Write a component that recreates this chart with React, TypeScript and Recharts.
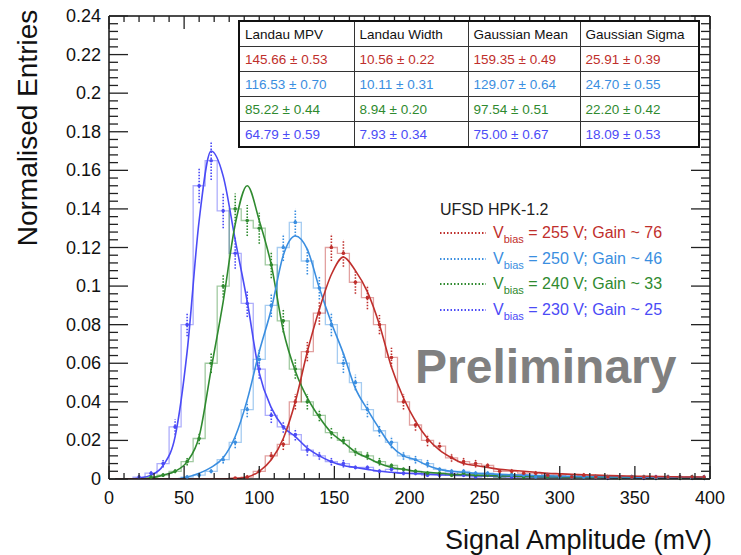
import { ComposedChart, Line, Scatter, ErrorBar, XAxis, YAxis } from 'recharts';

const FONT = '"Liberation Sans", Arial, Helvetica, sans-serif';

// bin centres (mV), 8 mV bins
const binCenters = [
  4, 12, 20, 28, 36, 44, 52, 60, 68, 76,
  84, 92, 100, 108, 116, 124, 132, 140, 148, 156,
  164, 172, 180, 188, 196, 204, 212, 220, 228, 236,
  244, 252, 260, 268, 276, 284, 292, 300, 308, 316,
  324, 332, 340, 348, 356, 364, 372, 380, 388, 396,
];

// Vbias = 230 V
const hist230 = [
  0, 0, 0.001, 0.003, 0.008, 0.027, 0.08, 0.152, 0.165, 0.139,
  0.117, 0.091, 0.057, 0.033, 0.027, 0.023, 0.015, 0.012, 0.009, 0.008,
  0.006, 0.006, 0.004, 0.005, 0.003, 0.003, 0.002, 0.002, 0.003, 0.002,
  0.001, 0.002, 0.001, 0.001, 0.002, 0.001, 0.001, 0.001, 0.001, 0.001,
  0.001, 0.0005, 0.001, 0.001, 0.0005, 0.001, 0.001, 0.0005, 0.001, 0.0005,
];
const fit230 = [
  0, 0, 0.0005, 0.002, 0.007, 0.022, 0.066, 0.134, 0.17, 0.157,
  0.124, 0.092, 0.055, 0.037, 0.027, 0.022, 0.016, 0.012, 0.009, 0.007,
  0.006, 0.005, 0.004, 0.0035, 0.003, 0.0028, 0.0025, 0.0022, 0.002, 0.0018,
  0.0016, 0.0015, 0.0014, 0.0013, 0.0012, 0.0011, 0.001, 0.001, 0.0009, 0.0009,
  0.0008, 0.0008, 0.0007, 0.0007, 0.0007, 0.0006, 0.0006, 0.0006, 0.0005, 0.0005,
];
const err230 = [
  0, 0, 0.001, 0.001, 0.002, 0.004, 0.006, 0.009, 0.01, 0.009,
  0.008, 0.007, 0.005, 0.004, 0.003, 0.003, 0.003, 0.002, 0.002, 0.002,
  0.001, 0.001, 0.001, 0.001, 0.001, 0.001, 0.001, 0.001, 0.001, 0.001,
  0.001, 0.001, 0.001, 0.001, 0.001, 0.001, 0.001, 0.001, 0.001, 0.001,
  0.001, 0.001, 0.001, 0.001, 0.001, 0.001, 0.001, 0.001, 0.001, 0.001,
];

// Vbias = 240 V
const hist240 = [
  0, 0, 0, 0.001, 0.002, 0.004, 0.009, 0.021, 0.06, 0.1,
  0.14, 0.134, 0.13, 0.111, 0.082, 0.057, 0.04, 0.033, 0.024, 0.02,
  0.014, 0.012, 0.009, 0.007, 0.005, 0.004, 0.003, 0.003, 0.002, 0.003,
  0.002, 0.002, 0.001, 0.002, 0.001, 0.001, 0.001, 0.001, 0.001, 0.001,
  0.001, 0.001, 0.0005, 0.001, 0.001, 0.0005, 0.001, 0.0005, 0.001, 0.0005,
];
const fit240 = [
  0, 0, 0, 0.0005, 0.002, 0.004, 0.009, 0.022, 0.057, 0.092,
  0.132, 0.152, 0.134, 0.111, 0.077, 0.056, 0.042, 0.032, 0.024, 0.019,
  0.014, 0.011, 0.008, 0.006, 0.005, 0.004, 0.0035, 0.003, 0.0025, 0.0022,
  0.002, 0.0018, 0.0016, 0.0015, 0.0014, 0.0013, 0.0012, 0.0011, 0.001, 0.001,
  0.0009, 0.0009, 0.0008, 0.0008, 0.0007, 0.0007, 0.0007, 0.0006, 0.0006, 0.0006,
];
const err240 = [
  0, 0, 0, 0.001, 0.001, 0.001, 0.002, 0.003, 0.005, 0.006,
  0.008, 0.008, 0.008, 0.007, 0.006, 0.005, 0.004, 0.003, 0.003, 0.002,
  0.002, 0.002, 0.002, 0.001, 0.001, 0.001, 0.001, 0.001, 0.001, 0.001,
  0.001, 0.001, 0.001, 0.001, 0.001, 0.001, 0.001, 0.001, 0.001, 0.001,
  0.001, 0.001, 0.001, 0.001, 0.001, 0.001, 0.001, 0.001, 0.001, 0.001,
];

// Vbias = 250 V
const hist250 = [
  0, 0, 0, 0, 0, 0, 0.001, 0.002, 0.004, 0.01,
  0.019, 0.036, 0.062, 0.09, 0.12, 0.133, 0.113, 0.099, 0.08, 0.06,
  0.05, 0.036, 0.025, 0.019, 0.012, 0.01, 0.008, 0.005, 0.004, 0.004,
  0.003, 0.003, 0.002, 0.002, 0.002, 0.001, 0.002, 0.001, 0.001, 0.001,
  0.001, 0.001, 0.001, 0.001, 0.001, 0.0005, 0.001, 0.001, 0.0005, 0.001,
];
const fit250 = [
  0, 0, 0, 0, 0, 0, 0.001, 0.003, 0.006, 0.011,
  0.022, 0.041, 0.066, 0.088, 0.116, 0.126, 0.119, 0.099, 0.081, 0.065,
  0.047, 0.036, 0.026, 0.017, 0.012, 0.01, 0.007, 0.005, 0.004, 0.0035,
  0.003, 0.0027, 0.0024, 0.0022, 0.002, 0.0018, 0.0016, 0.0015, 0.0014, 0.0013,
  0.0012, 0.0011, 0.001, 0.001, 0.0009, 0.0009, 0.0008, 0.0008, 0.0007, 0.0007,
];
const err250 = [
  0, 0, 0, 0, 0, 0, 0.001, 0.001, 0.001, 0.002,
  0.003, 0.004, 0.005, 0.006, 0.007, 0.007, 0.007, 0.006, 0.006, 0.005,
  0.004, 0.004, 0.003, 0.003, 0.002, 0.002, 0.002, 0.001, 0.001, 0.001,
  0.001, 0.001, 0.001, 0.001, 0.001, 0.001, 0.001, 0.001, 0.001, 0.001,
  0.001, 0.001, 0.001, 0.001, 0.001, 0.001, 0.001, 0.001, 0.001, 0.001,
];

// Vbias = 255 V
const hist255 = [
  0, 0, 0, 0, 0, 0, 0, 0, 0, 0,
  0.0005, 0.001, 0.004, 0.012, 0.018, 0.04, 0.066, 0.086, 0.12, 0.117,
  0.102, 0.094, 0.08, 0.063, 0.04, 0.028, 0.02, 0.017, 0.011, 0.009,
  0.008, 0.007, 0.004, 0.004, 0.003, 0.003, 0.002, 0.002, 0.001, 0.002,
  0.001, 0.001, 0.001, 0.001, 0.001, 0.001, 0.001, 0.001, 0.001, 0.001,
];
const fit255 = [
  0, 0, 0, 0, 0, 0, 0, 0, 0, 0,
  0.0003, 0.001, 0.004, 0.01, 0.021, 0.04, 0.066, 0.088, 0.106, 0.115,
  0.108, 0.097, 0.08, 0.058, 0.042, 0.03, 0.021, 0.015, 0.011, 0.008,
  0.007, 0.006, 0.005, 0.0045, 0.004, 0.0035, 0.003, 0.0027, 0.0024, 0.0022,
  0.002, 0.0018, 0.0016, 0.0015, 0.0014, 0.0013, 0.0012, 0.0011, 0.001, 0.001,
];
const err255 = [
  0, 0, 0, 0, 0, 0, 0, 0, 0, 0,
  0, 0.001, 0.001, 0.002, 0.003, 0.004, 0.005, 0.006, 0.007, 0.007,
  0.006, 0.006, 0.005, 0.005, 0.004, 0.003, 0.003, 0.002, 0.002, 0.002,
  0.002, 0.001, 0.001, 0.001, 0.001, 0.001, 0.001, 0.001, 0.001, 0.001,
  0.001, 0.001, 0.001, 0.001, 0.001, 0.001, 0.001, 0.001, 0.001, 0.001,
];

// fit table
const tableHeaders = ['Landau MPV', 'Landau Width', 'Gaussian Mean', 'Gaussian Sigma'];
const landauMpv = ['145.66 ± 0.53', '116.53 ± 0.70', '85.22 ± 0.44', '64.79 ± 0.59'];
const landauWidth = ['10.56 ± 0.22', '10.11 ± 0.31', '8.94 ± 0.20', '7.93 ± 0.34'];
const gaussMean = ['159.35 ± 0.49', '129.07 ± 0.64', '97.54 ± 0.51', '75.00 ± 0.67'];
const gaussSigma = ['25.91 ± 0.39', '24.70 ± 0.55', '22.20 ± 0.42', '18.09 ± 0.53'];

// legend
const voltages = [255, 250, 240, 230];
const gains = [76, 46, 33, 25];
const colors = ['#bf2f2c', '#3a8ee0', '#2f8a2f', '#4b4bf6'];

const xTicks = Array.from({ length: 41 }, (_, i) => i * 10);
const yTicks = Array.from({ length: 61 }, (_, i) => +(i * 0.004).toFixed(3));

const series = [
  { key: 's230', hist: hist230, fit: fit230, err: err230, color: colors[3] },
  { key: 's240', hist: hist240, fit: fit240, err: err240, color: colors[2] },
  { key: 's250', hist: hist250, fit: fit250, err: err250, color: colors[1] },
  { key: 's255', hist: hist255, fit: fit255, err: err255, color: colors[0] },
];

const rows = binCenters.map((x, i) => {
  const r: any = { x };
  series.forEach((s) => {
    r['h' + s.key] = s.hist[i];
    r['f' + s.key] = s.fit[i];
  });
  return r;
});

const pointsFor = (s: any) =>
  binCenters
    .map((x, i) => ({ x, y: s.hist[i], e: s.err[i] }))
    .filter((p) => p.y > 0);

const isMajorY = (v: number) => Math.round(v * 1000) % 20 === 0;

const BottomTick = (p: any) => {
  const v = p.payload.value;
  const major = v % 50 === 0;
  return (
    <g>
      <line x1={p.x} x2={p.x} y1={p.y} y2={p.y - (major ? 13 : 6)} stroke="#222" strokeWidth={1.3} />
      {major && (
        <text x={p.x} y={p.y + 25} textAnchor="middle" fontSize={18} fill="#111" fontFamily={FONT}>
          {v}
        </text>
      )}
    </g>
  );
};

const TopTick = (p: any) => {
  const major = p.payload.value % 50 === 0;
  return <line x1={p.x} x2={p.x} y1={p.y} y2={p.y + (major ? 13 : 6)} stroke="#222" strokeWidth={1.3} />;
};

const LeftTick = (p: any) => {
  const v = p.payload.value;
  const major = isMajorY(v);
  return (
    <g>
      <line x1={p.x} x2={p.x + (major ? 19 : 9)} y1={p.y} y2={p.y} stroke="#222" strokeWidth={1.3} />
      {major && (
        <text x={p.x - 8} y={p.y + 6} textAnchor="end" fontSize={18} fill="#111" fontFamily={FONT}>
          {String(+v.toFixed(2))}
        </text>
      )}
    </g>
  );
};

const RightTick = (p: any) => {
  const major = isMajorY(p.payload.value);
  return <line x1={p.x} x2={p.x - (major ? 19 : 9)} y1={p.y} y2={p.y} stroke="#222" strokeWidth={1.3} />;
};

const cell: any = {
  border: '1px solid #333',
  padding: '0 0 0 5px',
  height: 24,
  whiteSpace: 'nowrap',
  fontSize: 13.5,
};

export default function App() {
  const tableCols = [landauMpv, landauWidth, gaussMean, gaussSigma];
  const colW = [115, 114, 112, 119];
  const legendY = [233, 259, 284, 310];
  return (
    <div style={{ position: 'absolute', left: 0, top: 0, width: 741, height: 555, background: '#fff', fontFamily: FONT }}>
      <ComposedChart width={741} height={555} data={rows} margin={{ top: 15, right: 30, bottom: 75, left: 108 }}>
        <XAxis
          xAxisId="b"
          dataKey="x"
          type="number"
          domain={[0, 400]}
          ticks={xTicks}
          interval={0}
          tick={BottomTick}
          tickLine={false}
          tickSize={0}
          tickMargin={0}
          height={1}
          axisLine={{ stroke: '#111', strokeWidth: 1.5 }}
          allowDataOverflow
        />
        <XAxis
          xAxisId="t"
          orientation="top"
          dataKey="x"
          type="number"
          domain={[0, 400]}
          ticks={xTicks}
          interval={0}
          tick={TopTick}
          tickLine={false}
          tickSize={0}
          tickMargin={0}
          height={1}
          axisLine={{ stroke: '#111', strokeWidth: 1.5 }}
          allowDataOverflow
        />
        <YAxis
          yAxisId="l"
          type="number"
          domain={[0, 0.24]}
          ticks={yTicks}
          interval={0}
          tick={LeftTick}
          tickLine={false}
          tickSize={0}
          tickMargin={0}
          width={1}
          axisLine={{ stroke: '#111', strokeWidth: 1.5 }}
          allowDataOverflow
        />
        <YAxis
          yAxisId="r"
          orientation="right"
          type="number"
          domain={[0, 0.24]}
          ticks={yTicks}
          interval={0}
          tick={RightTick}
          tickLine={false}
          tickSize={0}
          tickMargin={0}
          width={1}
          axisLine={{ stroke: '#111', strokeWidth: 1.5 }}
          allowDataOverflow
        />

        {series.map((s) => (
          <Line
            key={'h' + s.key}
            xAxisId="b"
            yAxisId="l"
            type="step"
            dataKey={'h' + s.key}
            stroke={s.color}
            strokeOpacity={0.45}
            strokeWidth={1.3}
            dot={false}
            activeDot={false}
            isAnimationActive={false}
          />
        ))}
        {series.map((s) => (
          <Scatter
            key={'p' + s.key}
            xAxisId="b"
            yAxisId="l"
            data={pointsFor(s)}
            dataKey="y"
            fill={s.color}
            shape={(p: any) => <circle cx={p.cx} cy={p.cy} r={1.8} fill={s.color} />}
            isAnimationActive={false}
          >
            <ErrorBar
              dataKey="e"
              direction="y"
              width={0}
              stroke={s.color}
              strokeWidth={1.6}
              strokeDasharray="1.5 1.5"
              isAnimationActive={false}
            />
          </Scatter>
        ))}
        {series.map((s) => (
          <Line
            key={'f' + s.key}
            xAxisId="b"
            yAxisId="l"
            type="monotone"
            dataKey={'f' + s.key}
            stroke={s.color}
            strokeWidth={1.6}
            dot={false}
            activeDot={false}
            isAnimationActive={false}
          />
        ))}
      </ComposedChart>

      {/* fit parameter table */}
      <table
        style={{
          position: 'absolute',
          left: 238,
          top: 20,
          width: 460,
          tableLayout: 'fixed',
          borderCollapse: 'collapse',
          border: '2px solid #111',
          background: '#fff',
          fontFamily: FONT,
        }}
      >
        <colgroup>
          {colW.map((w, i) => (
            <col key={i} style={{ width: w }} />
          ))}
        </colgroup>
        <tbody>
          <tr>
            {tableHeaders.map((h) => (
              <td key={h} style={{ ...cell, color: '#111' }}>
                {h}
              </td>
            ))}
          </tr>
          {colors.map((c, r) => (
            <tr key={r}>
              {tableCols.map((col, k) => (
                <td key={k} style={{ ...cell, color: c }}>
                  {col[r]}
                </td>
              ))}
            </tr>
          ))}
        </tbody>
      </table>

      {/* legend */}
      <div style={{ position: 'absolute', left: 440, top: 199, fontSize: 16, color: '#222', lineHeight: '22px' }}>UFSD HPK-1.2</div>
      {voltages.map((v, i) => (
        <div
          key={v}
          style={{
            position: 'absolute',
            left: 440,
            top: legendY[i] - 11,
            height: 22,
            display: 'flex',
            alignItems: 'center',
            color: colors[i],
            fontSize: 16,
            whiteSpace: 'nowrap',
          }}
        >
          <svg width={46} height={4}>
            <line x1={0} x2={46} y1={2} y2={2} stroke={colors[i]} strokeWidth={2} strokeDasharray="1.5 2" />
          </svg>
          <span style={{ marginLeft: 7 }}>
            V<span style={{ fontSize: 11, position: 'relative', top: 5 }}>bias</span> = {v} V; Gain ~ {gains[i]}
          </span>
        </div>
      ))}

      <div
        style={{
          position: 'absolute',
          left: 415,
          top: 341,
          fontSize: 48,
          lineHeight: '52px',
          fontWeight: 'bold',
          color: '#808080',
        }}
      >
        Preliminary
      </div>

      {/* axis titles */}
      <div
        style={{
          position: 'absolute',
          left: 28 - 140,
          top: 128 - 16,
          width: 280,
          height: 32,
          lineHeight: '32px',
          textAlign: 'center',
          fontSize: 28,
          color: '#111',
          transform: 'rotate(-90deg)',
          whiteSpace: 'nowrap',
        }}
      >
        Normalised Entries
      </div>
      <div
        style={{
          position: 'absolute',
          right: 741 - 712,
          top: 524,
          height: 32,
          lineHeight: '32px',
          fontSize: 27,
          color: '#111',
          whiteSpace: 'nowrap',
        }}
      >
        Signal Amplitude (mV)
      </div>
    </div>
  );
}
